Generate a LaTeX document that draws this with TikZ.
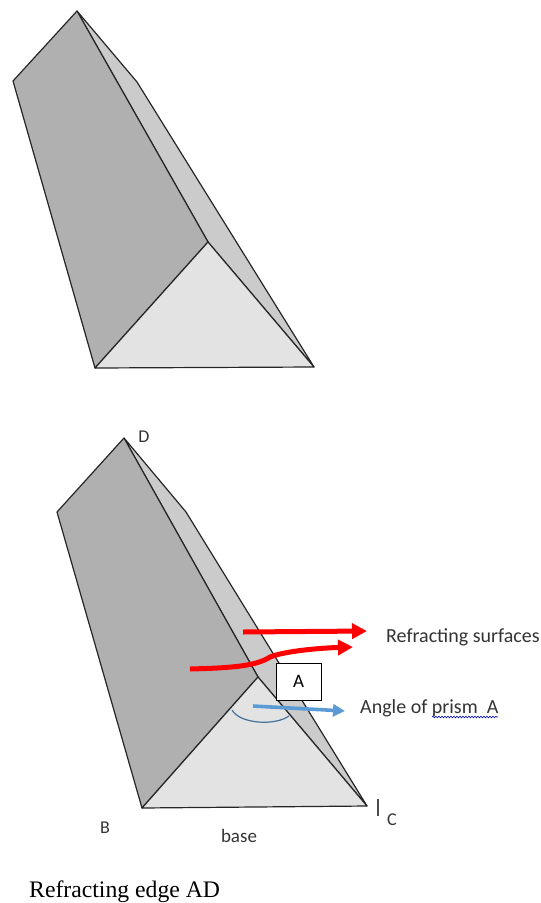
\documentclass[tikz,border=0pt]{standalone}
\usepackage{fontspec}
\setmainfont{Carlito}
\newfontfamily\capfont{Liberation Serif}
\usetikzlibrary{arrows.meta,decorations.pathmorphing}
\definecolor{facedark}{HTML}{B0B0B0}
\definecolor{faceside}{HTML}{CBCBCB}
\definecolor{facebase}{HTML}{E3E3E3}
\definecolor{arrowblue}{HTML}{5B9BD5}
\definecolor{arcblue}{HTML}{41719C}
\definecolor{labelgray}{HTML}{333333}
\tikzstyle{edge}=[draw=black!85,line width=1.2pt,line join=round]
\tikzstyle{lbl}=[text=labelgray,font=\fontsize{20}{24}\selectfont,inner sep=0pt]
\tikzstyle{redarrow}=[draw=red,line width=5pt,-{Triangle[length=15pt,width=15pt]}]
\tikzstyle{bluearrow}=[draw=arrowblue,line width=3.6pt,-{Triangle[length=12pt,width=12pt]}]

\begin{document}
\begin{tikzpicture}[x=1pt,y=-1pt]
\useasboundingbox (0,0) rectangle (541,903);
\coordinate (T) at (77,11);
\coordinate (L) at (13,81);
\coordinate (R) at (137,82);
\coordinate (B) at (95,368);
\coordinate (A) at (208,242);
\coordinate (C) at (314,367);
\draw[edge,fill=faceside] (T)--(R)--(C)--(A)--cycle;
\draw[edge,fill=facedark] (T)--(L)--(B)--(A)--cycle;
\draw[edge,fill=facebase] (B)--(A)--(C)--cycle;

\coordinate (D2) at (124,438);
\coordinate (L2) at (57,512);
\coordinate (R2) at (186,512);
\coordinate (B2) at (142,808);
\coordinate (A2) at (258,677);
\coordinate (C2) at (367,806);
\draw[edge,fill=faceside] (D2)--(R2)--(C2)--(A2)--cycle;
\draw[edge,fill=facedark] (D2)--(L2)--(B2)--(A2)--cycle;
\draw[edge,fill=facebase] (B2)--(A2)--(C2)--cycle;

\node[lbl,font=\fontsize{18}{22}\selectfont] (d) at (144,437) {D};
\node[lbl,font=\fontsize{18}{22}\selectfont] (b) at (105,828) {B};
\node[lbl,font=\fontsize{18}{22}\selectfont] (c) at (392,820) {C};
\node[lbl,font=\fontsize{19}{23}\selectfont] (base) at (239,836) {base};
\coordinate (tick1) at (378,799);
\coordinate (tick2) at (378,816);
\draw[line width=1.2pt,black!70] (tick1)--(tick2);

\node[draw=black,fill=white,line width=1pt,minimum width=45pt,minimum height=37pt,inner sep=0pt,font=\fontsize{19}{23}\selectfont] (abox) at (298.5,681.5) {A};

\node[lbl,anchor=west] (surf) at (386,637) {Refracting surfaces};
\node[lbl,anchor=west] (angle) at (360,708) {Angle of prism\ \ A};
\coordinate (wavy1) at (432,717);
\coordinate (wavy2) at (498,717);
\draw[blue!70!black,line width=0.6pt,decorate,decoration={snake,amplitude=0.8pt,segment length=3pt}] (wavy1)--(wavy2);

\coordinate (r1) at (243,632);
\coordinate (r1e) at (367,631);
\draw[redarrow] (r1)--(r1e);
\coordinate (r2) at (190,669);
\coordinate (r2e) at (353,647);
\draw[redarrow] (r2) .. controls (225,668) and (255,667) .. (270,657) .. controls (285,651) and (320,648) .. (r2e);

\coordinate (a1) at (232,710);
\coordinate (a2) at (289,716);
\draw[arcblue,line width=1.2pt] (a1) .. controls (240,724) and (275,726) .. (a2);
\coordinate (l1) at (253,706);
\coordinate (l2) at (345,711);
\draw[bluearrow] (l1)--(l2);

\node[anchor=west,inner sep=0pt,font=\capfont\fontsize{23.7}{28}\selectfont] (edgeAD) at (29,892) {Refracting edge AD};
\end{tikzpicture}
\end{document}
